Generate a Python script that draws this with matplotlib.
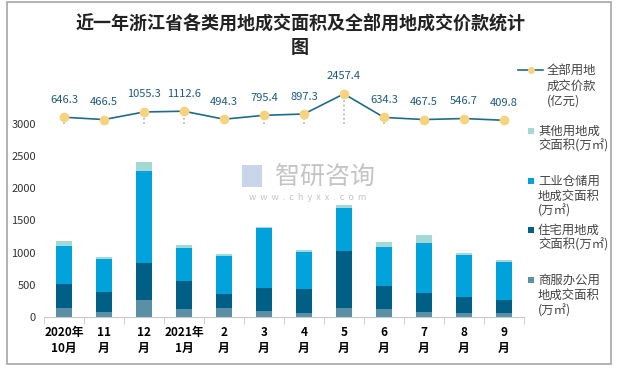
import numpy as np
import matplotlib.pyplot as plt
from matplotlib.lines import Line2D
from matplotlib.patches import Rectangle

plt.rcParams['font.family'] = ['Noto Sans CJK SC', 'DejaVu Sans']

months = ['2020年\n10月', '11\n月', '12\n月', '2021年\n1月', '2\n月', '3\n月',
          '4\n月', '5\n月', '6\n月', '7\n月', '8\n月', '9\n月']
# 万㎡
commercial = [150, 88, 273, 134, 150, 103, 72, 150, 134, 88, 72, 72]
residential = [371, 309, 572, 433, 216, 356, 371, 881, 356, 293, 248, 201]
industrial = [587, 510, 1423, 510, 588, 923, 573, 665, 603, 774, 649, 588]
other = [78, 31, 139, 47, 31, 20, 30, 46, 77, 123, 31, 31]
# 亿元
price = [646.3, 466.5, 1055.3, 1112.6, 494.3, 795.4, 897.3, 2457.4, 634.3, 467.5, 546.7, 409.8]

c_com = '#5b8fa6'
c_res = '#005f85'
c_ind = '#00a2db'
c_oth = '#a3d8d5'
c_line = '#1f6b8c'
c_mark = '#f7d37e'

W, H = 620, 369
fig = plt.figure(figsize=(6.2, 3.69), dpi=100)
ax = fig.add_axes([0.071, 0.14, 0.774, 0.70])
x = np.arange(len(months))
w = 0.4

ax.bar(x, commercial, w, color=c_com)
ax.bar(x, residential, w, bottom=commercial, color=c_res)
bot = np.array(commercial) + np.array(residential)
ax.bar(x, industrial, w, bottom=bot, color=c_ind)
bot = bot + np.array(industrial)
ax.bar(x, other, w, bottom=bot, color=c_oth)

ax.set_xlim(-0.5, 11.5)
ax.set_ylim(0, 4000)
ax.set_yticks([0, 500, 1000, 1500, 2000, 2500, 3000])
ax.tick_params(axis='y', length=0, labelsize=8, labelcolor='#333333', pad=6)
ax.set_xticks(x)
ax.set_xticklabels(months, fontsize=8.5, fontweight='bold', linespacing=1.3)
ax.tick_params(axis='x', which='major', length=0, pad=6)
ax.set_xticks(np.arange(-0.5, 12, 1), minor=True)
ax.tick_params(axis='x', which='minor', length=5, color='#c8c8c8', direction='out')
for s in ['top', 'right', 'left']:
    ax.spines[s].set_visible(False)
ax.spines['bottom'].set_color('#c8c8c8')

# line on secondary axis
ax2 = ax.twinx()
ax2.set_ylim(-14855, 5155)
ax2.axis('off')
ax2.vlines(x, 100, price, colors='#b0b0b0', linestyles=':', linewidth=1.2)
ax2.plot(x, price, color=c_line, linewidth=1.2, marker='o', markersize=6,
         markerfacecolor=c_mark, markeredgecolor=c_mark)
for xi, v in zip(x, price):
    ax2.annotate(f'{v}', (xi, v), xytext=(0, 9), textcoords='offset points',
                 ha='center', va='bottom', fontsize=8, color='#1f5a85')

# watermark
fig.text(0.525, 0.52, '智研咨询', fontsize=18, color='#c4c4c4', ha='center', va='center')
fig.text(0.497, 0.465, 'w  w  w  .  c  h  y  x  x  .  c  o  m', fontsize=6.5,
         color='#c4c4c4', ha='center', va='center')
fig.patches.append(Rectangle((0.39, 0.493), 0.032, 0.06, transform=fig.transFigure,
                             facecolor='#c9d6ea', edgecolor='none'))

fig.suptitle('近一年浙江省各类用地成交面积及全部用地成交价款统计\n图', x=0.484, y=0.962,
             fontsize=13, fontweight='bold', color='#222222', linespacing=1.35)

# legend, laid out by hand like the original (pixel positions)
leg_items = [
    ('line', None, ['全部用地', '成交价款', '(亿元)'], [70, 86, 101]),
    ('box', c_oth, ['其他用地成', '交面积(万㎡)'], [131, 146]),
    ('box', c_ind, ['工业仓储用', '地成交面积', '(万㎡)'], [181, 196, 211]),
    ('box', c_res, ['住宅用地成', '交面积(万㎡)'], [230, 245]),
    ('box', c_com, ['商服办公用', '地成交面积', '(万㎡)'], [280, 295.5, 311]),
]
for kind, col, lines, ys in leg_items:
    if kind == 'line':
        tx = 547
        y0 = 1 - ys[0] / H
        fig.add_artist(Line2D([518 / W, 543 / W], [y0, y0], color=c_line, linewidth=1.2,
                              transform=fig.transFigure))
        fig.add_artist(Line2D([530.5 / W], [y0], marker='o', markersize=4, color=c_mark,
                              transform=fig.transFigure))
    else:
        tx = 538
        fig.patches.append(Rectangle((528 / W, 1 - (ys[0] + 3) / H), 6 / W, 6 / H,
                                     transform=fig.transFigure, facecolor=col, edgecolor='none'))
    for s, yy in zip(lines, ys):
        fig.text(tx / W, 1 - yy / H, s, fontsize=8.9, color='#444444', ha='left', va='center')

fig.patches.append(Rectangle((0.0105, 0.0136), 0.975, 0.981, transform=fig.transFigure,
                             fill=False, edgecolor='#a6a6a6', linewidth=1.2))

fig.savefig('out.png', dpi=100)
